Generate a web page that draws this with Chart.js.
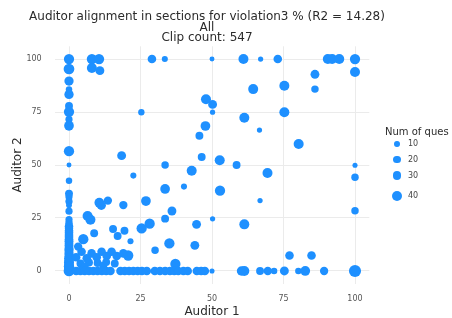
<!DOCTYPE html>
<html>
<head>
<meta charset="utf-8">
<script src="https://cdn.jsdelivr.net/npm/chart.js@4.4.1/dist/chart.umd.min.js"></script>
<style>
  body { margin: 0; background: #fff; font-family: "DejaVu Sans", sans-serif; }
  #wrap { position: relative; width: 452px; height: 318px; overflow: hidden; }
  #grafico { position: absolute; left: 0; top: 0; }
  .titulo { position: absolute; left: 0; width: 414px; text-align: center; font-size: 12px; line-height: 12px; color: #2b2b2b; white-space: nowrap; }
  #legenda { position: absolute; left: 385px; top: 0; font-size: 10px; color: #2b2b2b; }
  .leg-titulo { position: absolute; left: 0; top: 126px; white-space: nowrap; }
  .leg-item { position: absolute; left: 0; height: 12px; white-space: nowrap; }
  .leg-item span.dot { position: absolute; border-radius: 50%; background: rgb(30,144,255); }
  .leg-item span.txt { position: absolute; left: 23px; top: -5px; font-size: 8px; color: #444; }
</style>
</head>
<body>
<div id="wrap">
  <canvas id="grafico" width="452" height="318"></canvas>
  <div class="titulo" style="top:10px">Auditor alignment in sections for violation3 % (R2 = 14.28)</div>
  <div class="titulo" style="top:21px">All</div>
  <div class="titulo" style="top:31px">Clip count: 547</div>
  <div id="legenda"><div class="leg-titulo">Num of ques</div></div>
</div>
<script>
// Dados
const auditor1 = [
  0, 8, 10.5, 29, 33.5, 50, 61, 67, 73, 90.5, 92, 94.5, 100,
  0, 8, 10.8, 86, 100,
  0, 0, 0, 0, 0, 0, 0, 0, 0,
  25.3, 18.4, 22.5,
  47.9, 50.2, 50.2, 64.4, 61.3, 47.7, 45.6, 66.6, 46.4, 52.7, 58.6, 33.6, 42.9,
  75.3, 86, 75.3, 80.3, 100, 69.4, 100, 52.8, 66.8, 100, 50.2, 61.3, 77.1, 84.8,
  33.6, 40.2, 26.9, 36, 33.6, 28.2, 25.4, 44.6, 35.1, 30.1, 44, 37.2,
  13.6, 10.6, 11.3, 19, 6.5, 7.5, 8.8, 5, 15.4, 17, 19.4, 21.5, 20.7,
  0, 0, 0, 0, 0, 0, 0, 0, 0, 0, 0, 0, 0, 0, 0, 0, 0, 0, 0,
  0, 0, 0, 0, 0, 0, 0, 0, 0, 0, 0,
  4.4, 6.2, 7.9, 9.7, 11.4, 13.2, 14.9, 16.7, 19, 4, 7, 10, 13, 16, 3.2,
  5.5, 12, 2.5,
  2.5, 4, 5.5, 7, 8.5, 10, 11.5, 13, 14.5, 18, 19.5, 21, 22.5, 24, 25.5, 27.2,
  30, 31.8, 33.6, 35.3, 36.8, 38.2, 40, 41.5, 44.7, 46.2, 47.5, 50,
  60.3, 61.3, 66.8, 69.5, 71.7, 75.3, 80.2, 82.6, 89.2, 100
];
const auditor2 = [
  100, 100, 100, 100, 100, 100, 100, 100, 100, 100, 100, 100, 100,
  95.3, 95.8, 94.5, 92.8, 93.9,
  89.6, 85.6, 83.3, 77.8, 75.1, 71.5, 68.5, 56.5, 50,
  74.9, 54.4, 45,
  81, 78.6, 74.9, 85.8, 72.3, 68.4, 63.8, 66.5, 53.8, 52.2, 50, 50, 47.3,
  87.4, 85.8, 74.9, 59.9, 49.9, 46.2, 44.2, 37.9, 33.2, 28.4, 24.6, 22, 7.3, 7.3,
  38.7, 39.8, 33, 28.3, 24.7, 22.3, 20.1, 22, 13, 9.8, 12.1, 3.3,
  33.2, 32.2, 31, 31.1, 25.9, 24.2, 17.8, 15, 19.8, 16.5, 19, 14, 7.3,
  42.6, 36.5, 35, 32.8, 31, 28.2, 24.2, 21, 19, 17, 15, 13, 11, 9, 7, 5, 3, 1.5, 0,
  22.5, 20, 18, 16, 14, 12, 10, 8, 6, 4, 2.2,
  9.1, 6, 8.3, 6.5, 9.1, 7.1, 9.1, 7.1, 8.3, 3.5, 4, 3.8, 4.2, 3.5, 11.5,
  2.2, 2.5, 6.5,
  0, 0, 0, 0, 0, 0, 0, 0, 0, 0, 0, 0, 0, 0, 0, 0,
  0, 0, 0, 0, 0, 0, 0, 0, 0, 0, 0, 0,
  0, 0, 0, 0, 0, 0, 0, 0, 0, 0
];
const numQues = [
  42, 42, 42, 30, 12, 4, 40, 6, 30, 40, 40, 40, 42,
  45, 40, 32, 32, 40,
  35, 15, 35, 25, 42, 20, 38, 42, 4,
  14, 32, 12,
  40, 32, 6, 40, 40, 38, 25, 6, 25, 40, 25, 22, 40,
  40, 22, 40, 40, 5, 40, 22, 42, 6, 22, 6, 40, 30, 30,
  38, 12, 38, 32, 25, 42, 42, 32, 42, 22, 32, 42,
  28, 38, 35, 28, 40, 40, 25, 42, 25, 25, 25, 12, 42,
  15, 25, 20, 20, 10, 20, 20, 30, 30, 30, 30, 30, 30, 30, 30, 35, 35, 40, 45,
  22, 28, 30, 30, 32, 32, 35, 35, 38, 40, 42,
  30, 30, 30, 30, 30, 30, 30, 30, 30, 25, 25, 25, 25, 25, 28,
  25, 25, 30,
  30, 30, 30, 30, 30, 30, 30, 30, 30, 30, 30, 30, 30, 30, 30, 30,
  30, 30, 30, 30, 30, 30, 30, 30, 30, 30, 30, 5,
  35, 40, 25, 28, 15, 32, 15, 38, 28, 55
];
const xTicks = [0, 25, 50, 75, 100];
const yTicks = [0, 25, 50, 75, 100];
const legendaTamanhos = [10, 20, 30, 40];

const corPonto = "rgb(30,144,255)";

// tamanho do ponto a partir do número de questões
function raio(q) {
  return 2.2 + 0.07 * q;
}

const pontos = auditor1.map((x, i) => ({ x: x, y: auditor2[i] }));

const ctx = document.getElementById("grafico").getContext("2d");

const grafico = new Chart(ctx, {
  type: "scatter",
  data: {
    datasets: [{
      label: "Num of ques",
      data: pontos,
      backgroundColor: corPonto,
      borderWidth: 0,
      pointRadius: (c) => raio(numQues[c.dataIndex]),
      pointHoverRadius: (c) => raio(numQues[c.dataIndex])
    }]
  },
  options: {
    responsive: false,
    animation: false,
    devicePixelRatio: 1,
    layout: { padding: { left: 0, top: 46.3, right: 82.7, bottom: 0 } },
    plugins: {
      legend: { display: false },
      tooltip: { enabled: false }
    },
    scales: {
      x: {
        type: "linear",
        min: -5,
        max: 105,
        afterBuildTicks: (s) => { s.ticks = xTicks.map((v) => ({ value: v })); },
        afterFit: (s) => { s.height = 34.3; },
        grid: { color: "#ebebeb", drawTicks: false },
        border: { display: false },
        ticks: { padding: 10, color: "#555", font: { family: "DejaVu Sans", size: 8 } },
        title: { display: true, text: "Auditor 1", color: "#2b2b2b", font: { family: "DejaVu Sans", size: 12 }, padding: { top: 0, bottom: -1 } }
      },
      y: {
        type: "linear",
        min: -6,
        max: 106,
        afterBuildTicks: (s) => { s.ticks = yTicks.map((v) => ({ value: v })); },
        afterFit: (s) => { s.width = 54.7; },
        grid: { color: "#ebebeb", drawTicks: false },
        border: { display: false },
        ticks: { padding: 13, color: "#555", font: { family: "DejaVu Sans", size: 8 } },
        title: { display: true, text: "Auditor 2", color: "#2b2b2b", font: { family: "DejaVu Sans", size: 12 }, padding: { top: 11, bottom: 0 } }
      }
    }
  }
});

// Legenda de tamanhos (HTML)
const legenda = document.getElementById("legenda");
const legendaY = [144, 159.5, 175.5, 196];
legendaTamanhos.forEach((q, i) => {
  const r = raio(q);
  const item = document.createElement("div");
  item.className = "leg-item";
  item.style.top = legendaY[i] + "px";
  item.innerHTML = `<span class="dot" style="left:${12 - r}px;top:${-r}px;width:${2 * r}px;height:${2 * r}px"></span><span class="txt">${q}</span>`;
  legenda.appendChild(item);
});
</script>
</body>
</html>
